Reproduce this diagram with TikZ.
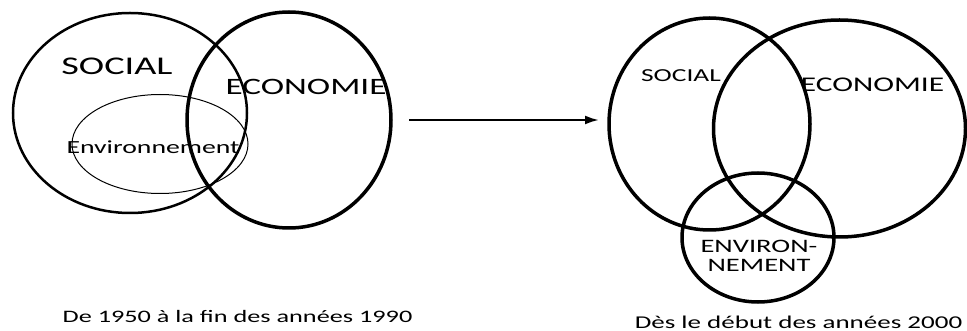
\documentclass[tikz,border=0pt]{standalone}
\usepackage{fontspec}
\setmainfont{Carlito}
\usetikzlibrary{
    arrows.meta,
    shapes.geometric,
    positioning
}
\tikzset{ring/.style={ellipse, draw=black, inner sep=0pt}}
\tikzset{lbl/.style={inner sep=0pt, xscale=1.5}}

\begin{document}
\begin{tikzpicture}[x=1pt, y=-1pt]
                        \useasboundingbox (0, 0) rectangle (967, 331);

                        % de 1950 a 1990
                        \node[ring, line width=2.5pt, minimum width=234pt, minimum height=200pt] (soc1) at (130, 113) {};
                        \node[ring, line width=3.5pt, minimum width=204pt, minimum height=216pt] (eco1) at (289, 120) {};
                        \node[ring, line width=1pt, minimum width=176pt, minimum height=99pt] (env1) at (160, 144) {};
                        \node[lbl, font=\fontsize{25.5}{28}\selectfont] (tsoc1) at (117, 66) {SOCIAL};
                        \node[lbl, font=\fontsize{23.5}{26}\selectfont] (teco1) at (306, 87) {ECONOMIE};
                        \node[lbl, font=\fontsize{18.5}{21}\selectfont] (tenv1) at (153, 147) {Environnement};
                        \node[lbl, font=\fontsize{17.5}{21}\selectfont] (cap1) at (237.5, 316) {De 1950 à la fin des années 1990};

                        % passage
                        \coordinate (a0) at (409, 120);
                        \coordinate (a1) at (599, 120);
                        \draw[-{Latex[length=14pt, width=9pt]}, line width=2.2pt] (a0) -- (a1);

                        % des 2000
                        \node[ring, line width=3.5pt, minimum width=201pt, minimum height=212pt] (soc2) at (709.5, 124) {};
                        \node[ring, line width=3.5pt, minimum width=252pt, minimum height=217pt] (eco2) at (839.5, 128.5) {};
                        \node[ring, line width=3.5pt, minimum width=152pt, minimum height=129pt] (env2) at (758, 237.5) {};
                        \node[lbl, font=\fontsize{18.3}{21}\selectfont] (tsoc2) at (681, 76) {SOCIAL};
                        \node[lbl, font=\fontsize{20.9}{23}\selectfont] (teco2) at (872.5, 85) {ECONOMIE};
                        \node[lbl, font=\fontsize{19}{19}\selectfont, align=center] (tenv2) at (759, 256) {ENVIRON-\\NEMENT};
                        \node[lbl, font=\fontsize{18}{21}\selectfont] (cap2) at (798.5, 322) {Dès le début des années 2000};
                    \end{tikzpicture}
\end{document}
